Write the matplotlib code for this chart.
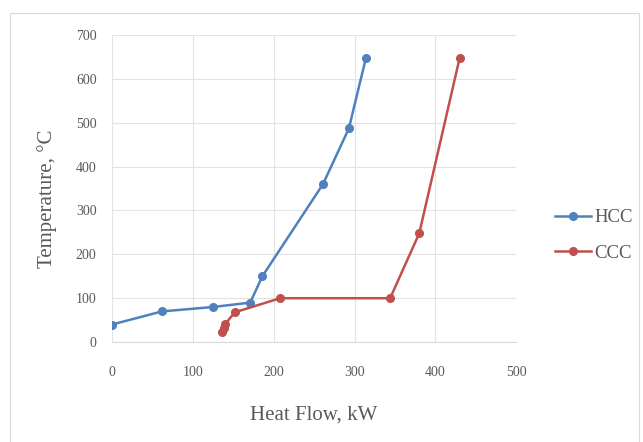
import matplotlib
matplotlib.use("Agg")
import matplotlib.pyplot as plt
from matplotlib.patches import Rectangle

hcc_x = [0, 62, 125, 171, 186, 261, 293, 314]
hcc_y = [40, 70, 80, 90, 150, 360, 487, 647]
ccc_x = [136, 138, 140, 152, 208, 344, 380, 430]
ccc_y = [23, 32, 41, 68, 100, 100, 248, 648]
x_ticks = [0, 100, 200, 300, 400, 500]
y_ticks = [0, 100, 200, 300, 400, 500, 600, 700]

plt.rcParams['font.family'] = ['Liberation Serif', 'DejaVu Serif']

fig = plt.figure(figsize=(6.43, 4.42), dpi=100)
fig.patches.append(Rectangle((10/643, -0.01), 629/643, 1 - 13/442 + 0.01, transform=fig.transFigure,
                             fill=False, edgecolor='#D9D9D9', linewidth=0.8))
ax = fig.add_axes([0.174, 0.226, 0.629, 0.695])

blue = '#4F81BD'
red = '#C0504D'
ax.plot(hcc_x, hcc_y, color=blue, marker='o', markersize=5.5, linewidth=1.8, label='HCC')
ax.plot(ccc_x, ccc_y, color=red, marker='o', markersize=5.5, linewidth=1.8, label='CCC')

ax.set_xlim(0, 500)
ax.set_ylim(0, 700)
ax.set_xticks(x_ticks)
ax.set_yticks(y_ticks)
ax.tick_params(axis='both', length=0, labelsize=10, colors='#595959')
ax.tick_params(axis='x', pad=17)
ax.tick_params(axis='y', pad=11)
ax.grid(True, color='#E3E3E3', linewidth=0.8)
ax.set_axisbelow(True)
for s in ['top', 'right', 'left']:
    ax.spines[s].set_visible(False)
ax.spines['bottom'].set_color('#D9D9D9')

ax.set_xlabel('Heat Flow, kW', fontsize=15, color='#595959')
ax.set_ylabel('Temperature, °C', fontsize=15, color='#595959')
ax.xaxis.set_label_coords((314 - 112) / (516 - 112), -(405 - 342) / (342 - 35))
ax.yaxis.set_label_coords(-(112 - 57) / (516 - 112), (342 - 199) / (342 - 35))

leg = fig.legend(loc='center left', bbox_to_anchor=(555/643, 1 - 235.5/442), frameon=False,
                 fontsize=13.5, labelcolor='#595959', handlelength=1.9,
                 labelspacing=1.0, handletextpad=0.2, borderaxespad=0, borderpad=0)

fig.savefig('out.png', dpi=100)
